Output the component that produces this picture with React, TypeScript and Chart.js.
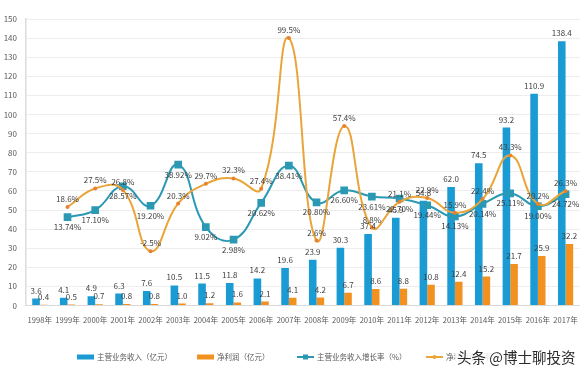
import React, { useEffect, useRef } from "react";
import { Chart, registerables } from "chart.js";

Chart.register(...registerables);

const years = ["1998年","1999年","2000年","2001年","2002年","2003年","2004年","2005年","2006年","2007年","2008年","2009年","2010年","2011年","2012年","2013年","2014年","2015年","2016年","2017年"];
const revenue = [3.6,4.1,4.9,6.3,7.6,10.5,11.5,11.8,14.2,19.6,23.9,30.3,37.4,45.9,54.8,62.0,74.5,93.2,110.9,138.4];
const netProfit = [0.4,0.5,0.7,0.8,0.8,1.0,1.2,1.6,2.1,4.1,4.2,6.7,8.6,8.8,10.8,12.4,15.2,21.7,25.9,32.2];
const revenueGrowth = [null,13.74,17.10,28.57,19.20,38.92,9.02,2.98,20.62,38.41,20.80,26.60,23.61,22.70,19.44,14.13,20.14,25.11,19.00,24.72];
const profitGrowth = [null,18.6,27.5,26.8,-2.5,20.3,29.7,32.3,27.4,99.5,2.6,57.4,8.8,21.1,22.9,15.9,22.4,43.3,20.2,26.3];
const seriesNames = ["主营业务收入（亿元）","净利润（亿元）","主营业务收入增长率（%）","净利润增长率（%）"];

const BLUE = "#1b9bd3";
const ORANGE = "#f29020";
const TEAL = "#2b99b3";
const GOLD = "#e9a53a";
const FONT = "'Noto Sans CJK SC', 'Noto Sans', sans-serif";

const labelPlugin = {
  id: "valueLabels",
  afterDatasetsDraw(chart: any) {
    const ctx = chart.ctx;
    ctx.save();
    ctx.font = `8px ${FONT}`;
    ctx.fillStyle = "#404040";
    ctx.textAlign = "center";
    chart.data.datasets.forEach((ds: any, i: number) => {
      const meta = chart.getDatasetMeta(i);
      meta.data.forEach((el: any, j: number) => {
        const v = ds.data[j];
        if (v == null) return;
        const txt = ds.labelFmt(v);
        if (ds.labelPos === "above") {
          ctx.textBaseline = "bottom";
          ctx.fillText(txt, el.x, el.y - 4);
        } else {
          ctx.textBaseline = "top";
          ctx.fillText(txt, el.x, el.y + 6);
        }
      });
    });
    ctx.restore();
  },
};

const legendPlugin = {
  id: "customLegend",
  afterDraw(chart: any) {
    const ctx = chart.ctx;
    ctx.save();
    ctx.font = `7.5px ${FONT}`;
    ctx.textBaseline = "middle";
    ctx.textAlign = "left";
    const y = 357;
    const starts = [77, 197, 297, 426];
    chart.data.datasets.forEach((ds: any, i: number) => {
      const x = starts[i];
      if (ds.type === "bar") {
        ctx.fillStyle = ds.backgroundColor;
        ctx.fillRect(x, y - 2.5, 17, 5);
      } else {
        ctx.strokeStyle = ds.borderColor;
        ctx.lineWidth = 2;
        ctx.beginPath();
        ctx.moveTo(x, y);
        ctx.lineTo(x + 17, y);
        ctx.stroke();
        ctx.fillStyle = ds.borderColor;
        if (ds.pointStyle === "rect") ctx.fillRect(x + 6, y - 2.5, 5, 5);
        else {
          ctx.beginPath();
          ctx.arc(x + 8.5, y, 2, 0, Math.PI * 2);
          ctx.fill();
        }
      }
      ctx.fillStyle = "#595959";
      ctx.fillText(seriesNames[i], x + 20, y);
    });
    ctx.restore();
  },
};

export default function App() {
  const ref = useRef<HTMLCanvasElement>(null);
  useEffect(() => {
    document.body.style.margin = "0";
    const chart = new Chart(ref.current as HTMLCanvasElement, {
      type: "bar",
      data: {
        labels: years,
        datasets: [
          {
            type: "bar",
            label: seriesNames[0],
            data: revenue,
            backgroundColor: BLUE,
            yAxisID: "y",
            order: 3,
            categoryPercentage: 0.55,
            barPercentage: 1,
            labelFmt: (v: number) => v.toFixed(1),
            labelPos: "above",
          } as any,
          {
            type: "bar",
            label: seriesNames[1],
            data: netProfit,
            backgroundColor: ORANGE,
            yAxisID: "y",
            order: 4,
            categoryPercentage: 0.55,
            barPercentage: 1,
            labelFmt: (v: number) => v.toFixed(1),
            labelPos: "above",
          } as any,
          {
            type: "line",
            label: seriesNames[2],
            data: revenueGrowth,
            borderColor: TEAL,
            backgroundColor: TEAL,
            borderWidth: 2,
            pointStyle: "rect",
            pointRadius: 4,
            tension: 0.45,
            yAxisID: "y1",
            order: 2,
            labelFmt: (v: number) => v.toFixed(2) + "%",
            labelPos: "below",
          } as any,
          {
            type: "line",
            label: seriesNames[3],
            data: profitGrowth,
            borderColor: GOLD,
            backgroundColor: "#e8822e",
            borderWidth: 2,
            pointStyle: "circle",
            pointRadius: 2,
            pointBorderWidth: 0,
            tension: 0.45,
            yAxisID: "y1",
            order: 1,
            labelFmt: (v: number) => v.toFixed(1) + "%",
            labelPos: "above",
          } as any,
        ],
      },
      options: {
        animation: false,
        responsive: false,
        maintainAspectRatio: false,
        layout: { padding: { left: 0, right: 8, top: 19, bottom: 36.5 } },
        plugins: { legend: { display: false }, tooltip: { enabled: false } },
        scales: {
          x: {
            grid: { display: false, drawTicks: false },
            border: { display: true, color: "#d9d9d9", width: 1 },
            ticks: { color: "#595959", font: { size: 7.6, family: FONT }, padding: 10, maxRotation: 0, autoSkip: false },
            afterFit: (s: any) => { s.height = 30; },
          },
          y: {
            min: 0,
            max: 150,
            ticks: { stepSize: 10, color: "#595959", font: { size: 8, family: FONT }, padding: 9 },
            grid: { color: "#ededed", drawTicks: false },
            border: { display: true, color: "#dcdcdc", width: 1.5 },
            afterFit: (s: any) => { s.width = 26; },
          },
          y1: {
            display: false,
            min: -28.52,
            max: 108.59,
          },
        },
      },
      plugins: [labelPlugin, legendPlugin],
    });
    return () => chart.destroy();
  }, []);
  return (
    <div style={{ position: "fixed", left: 0, top: 0, width: 588, height: 372, background: "#fff" }}>
      <canvas ref={ref} width={588} height={372} style={{ width: 588, height: 372, display: "block" }} />
      <div
        style={{
          position: "absolute",
          left: 455,
          top: 347,
          padding: "0 2px",
          fontFamily: FONT,
          fontSize: 14.5,
          lineHeight: "20px",
          color: "#2a2a2a",
          background: "rgba(255,255,255,0.85)",
          whiteSpace: "nowrap",
        }}
      >
        头条 @博士聊投资
      </div>
    </div>
  );
}
